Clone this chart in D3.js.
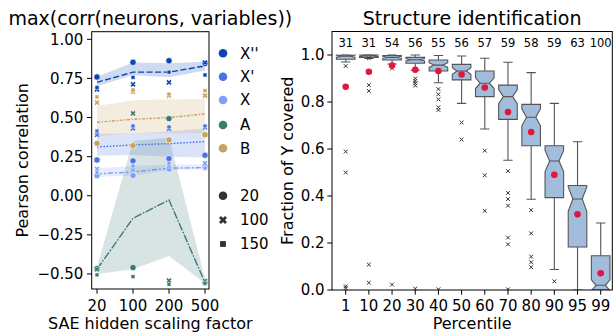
<!DOCTYPE html>
<html>
<head>
<meta charset="utf-8">
<script src="https://cdn.jsdelivr.net/npm/d3@7"></script>
<style>
body { margin: 0; background: #fff; }
text { font-family: "DejaVu Sans", sans-serif; fill: #000; }
</style>
</head>
<body>
<svg id="chart" width="614" height="332"></svg>
<script>
// ---- left panel data: max(corr) per variable ----
const scaleFactors = ['20', '100', '200', '500']
const varNames = ["X''", "X'", 'X', 'A', 'B']
const sizeNames = ['20', '100', '150']

// rows follow varNames, columns follow scaleFactors
const corrMean = [
    [0.725, 0.79, 0.79, 0.83],
    [0.312, 0.325, 0.333, 0.346],
    [0.14, 0.152, 0.176, 0.18],
    [-0.47, -0.144, -0.027, -0.555],
    [0.47, 0.489, 0.50, 0.523]
]
const corrLo = [
    [0.70, 0.772, 0.757, 0.80],
    [0.255, 0.26, 0.25, 0.245],
    [0.122, 0.128, 0.165, 0.17],
    [-0.50, -0.47, -0.385, -0.56],
    [0.378, 0.40, 0.40, 0.40]
]
const corrHi = [
    [0.761, 0.851, 0.847, 0.857],
    [0.395, 0.40, 0.41, 0.43],
    [0.176, 0.19, 0.20, 0.20],
    [-0.455, 0.35, 0.37, -0.53],
    [0.574, 0.61, 0.617, 0.619]
]
const corrCircle = [
    [0.759, 0.853, 0.863, 0.845],
    [0.229, 0.223, 0.237, 0.259],
    [0.129, 0.129, 0.171, 0.186],
    [-0.465, -0.459, 0.493, -0.555],
    [0.335, 0.32, 0.357, 0.39]
]
const corrCross = [
    [0.68, 0.712, 0.725, 0.851],
    [0.389, 0.431, 0.427, 0.437],
    [0.171, 0.165, 0.19, 0.208],
    [-0.47, 0.527, -0.542, -0.545],
    [0.595, 0.665, 0.64, 0.64]
]
const corrSquare = [
    [0.692, 0.757, 0.79, 0.772],
    [0.414, 0.446, 0.44, 0.446],
    [0.15, 0.19, 0.208, 0.176],
    [-0.506, -0.517, -0.566, -0.56],
    [0.632, 0.676, 0.65, 0.672]
]

// ---- right panel data: fraction of Y covered per percentile ----
const percentiles = ['1', '10', '20', '30', '40', '50', '60', '70', '80', '90', '95', '99']
const counts = [31, 31, 54, 56, 55, 56, 57, 59, 58, 59, 63, 100]
const q1 = [0.982, 0.99, 0.979, 0.965, 0.932, 0.894, 0.823, 0.726, 0.614, 0.393, 0.183, 0.0]
const medians = [0.995, 0.997, 0.99, 0.98, 0.957, 0.932, 0.88, 0.823, 0.735, 0.549, 0.387, 0.02]
const q3 = [0.999, 1.0, 0.998, 0.99, 0.979, 0.96, 0.932, 0.872, 0.79, 0.614, 0.445, 0.146]
const whiskLo = [0.97, 0.985, 0.962, 0.935, 0.882, 0.794, 0.685, 0.552, 0.386, 0.087, 0.0, 0.0]
const whiskHi = [1.0, 1.0, 1.0, 1.0, 0.998, 0.996, 0.986, 0.969, 0.925, 0.794, 0.631, 0.285]
const means = [0.865, 0.929, 0.955, 0.937, 0.932, 0.917, 0.862, 0.757, 0.672, 0.49, 0.322, 0.071]
const outliers = [
    [0.953, 0.589, 0.50, 0.016, 0.008],
    [0.986, 0.872, 0.847, 0.108, 0.031],
    [0.943, 0.023],
    [0.90, 0.89, 0.88, 0.87, 0.006],
    [0.855, 0.833, 0.811, 0.777, 0.766, 0.003],
    [0.713, 0.64],
    [0.593, 0.488, 0.337],
    [0.506, 0.413, 0.387, 0.359, 0.223, 0.194, 0.003],
    [0.34, 0.241, 0.142, 0.118, 0.097],
    [0.037],
    [],
    []
]

// styles
const varColors = ['#0a46b0', '#4a72e3', '#809ffa', '#3b7a72', '#c8a35f']
const varDashes = ['6,2.5', '1.6,1.6', '5,2,2,2', '8,1.6,1.6,1.6', '3,1.5,1.5,1.5']

const svg = d3.select('#chart')

// filled X marker: a plus rotated 45 degrees
const crossPath = d3.symbol().type(d3.symbolCross).size(20)()
const squarePath = d3.symbol().type(d3.symbolSquare).size(15)()

function drawMarker(g, kind, x, y, color, stroke) {
    if (kind === 0) {
        g.append('circle').attr('cx', x).attr('cy', y).attr('r', 3.2)
            .attr('fill', color).attr('stroke', stroke).attr('stroke-width', 0.7)
    } else if (kind === 1) {
        g.append('path').attr('d', crossPath)
            .attr('transform', `translate(${x},${y}) rotate(45)`)
            .attr('fill', color).attr('stroke', stroke).attr('stroke-width', 0.5)
    } else {
        g.append('path').attr('d', squarePath)
            .attr('transform', `translate(${x},${y})`)
            .attr('fill', color).attr('stroke', stroke).attr('stroke-width', 0.5)
    }
}

//draw left panel
function leftPanel() {
    const box = { left: 91.7, right: 209, top: 31.7, bottom: 289 }
    const x = d3.scalePoint().domain(scaleFactors).range([97, 205])
    const y = d3.scaleLinear().domain([-0.596, 1.0486]).range([box.bottom, box.top])

    svg.append('clipPath').attr('id', 'clipL')
        .append('rect').attr('x', box.left).attr('y', box.top)
        .attr('width', box.right - box.left).attr('height', box.bottom - box.top)

    const plot = svg.append('g').attr('clip-path', 'url(#clipL)')

    // bands and lines, one variable after the other
    varNames.forEach((name, v) => {
        const area = d3.area()
            .x((d, i) => x(scaleFactors[i]))
            .y0((d, i) => y(corrLo[v][i]))
            .y1((d, i) => y(corrHi[v][i]))
        plot.append('path')
            .datum(scaleFactors)
            .attr('d', area)
            .attr('fill', varColors[v])
            .attr('fill-opacity', 0.2)

        const line = d3.line()
            .x((d, i) => x(scaleFactors[i]))
            .y(d => y(d))
        plot.append('path')
            .datum(corrMean[v])
            .attr('d', line)
            .attr('fill', 'none')
            .attr('stroke', varColors[v])
            .attr('stroke-width', 1.4)
            .attr('stroke-dasharray', varDashes[v])
    })

    // points
    const pts = plot.append('g')
    const groups = [corrCircle, corrCross, corrSquare]
    varNames.forEach((name, v) => {
        groups.forEach((arr, k) => {
            arr[v].forEach((val, i) => {
                drawMarker(pts, k, x(scaleFactors[i]), y(val), varColors[v], '#fff')
            })
        })
    })

    // frame
    svg.append('rect')
        .attr('x', box.left).attr('y', box.top)
        .attr('width', box.right - box.left).attr('height', box.bottom - box.top)
        .attr('fill', 'none').attr('stroke', '#000').attr('stroke-width', 1)

    // y axis
    const yTicks = d3.range(-0.5, 1.01, 0.25)
    const fmt = d3.format('.2f')
    yTicks.forEach(t => {
        svg.append('line')
            .attr('x1', box.left - 4.7).attr('x2', box.left)
            .attr('y1', y(t)).attr('y2', y(t))
            .attr('stroke', '#000').attr('stroke-width', 1)
        svg.append('text')
            .attr('x', box.left - 8.3).attr('y', y(t)).attr('dy', '0.36em')
            .attr('text-anchor', 'end').style('font-size', '15px')
            .text(fmt(t).replace('-', '\u2212'))
    })

    // x axis
    scaleFactors.forEach(t => {
        svg.append('line')
            .attr('x1', x(t)).attr('x2', x(t))
            .attr('y1', box.bottom).attr('y2', box.bottom + 4.7)
            .attr('stroke', '#000').attr('stroke-width', 1)
        svg.append('text')
            .attr('x', x(t)).attr('y', 310.5)
            .attr('text-anchor', 'middle').style('font-size', '15px')
            .text(t)
    })

    //labels and title
    svg.append('text')
        .attr('transform', `translate(27.5, ${(box.top + box.bottom) / 2}) rotate(-90)`)
        .attr('text-anchor', 'middle').style('font-size', '16px')
        .text('Pearson correlation')
    svg.append('text')
        .attr('x', (box.left + box.right) / 2).attr('y', 329)
        .attr('text-anchor', 'middle').style('font-size', '16px')
        .text('SAE hidden scaling factor')
    svg.append('text')
        .attr('x', (box.left + box.right) / 2).attr('y', 25)
        .attr('text-anchor', 'middle').style('font-size', '19px')
        .text('max(corr(neurons, variables))')

    // legend
    const leg = svg.append('g')
    const hueY = [53.3, 76.7, 100, 125, 148.3]
    varNames.forEach((name, v) => {
        leg.append('circle').attr('cx', 223).attr('cy', hueY[v]).attr('r', 4.3)
            .attr('fill', varColors[v])
        leg.append('text').attr('x', 240).attr('y', hueY[v]).attr('dy', '0.36em')
            .style('font-size', '15px').text(name)
    })
    const styleY = [195.7, 220, 244]
    sizeNames.forEach((name, k) => {
        if (k === 0) {
            leg.append('circle').attr('cx', 223).attr('cy', styleY[k]).attr('r', 4.3)
                .attr('fill', '#333')
        } else {
            const big = d3.symbol().type(k === 1 ? d3.symbolCross : d3.symbolSquare).size(k === 1 ? 40 : 34)()
            leg.append('path').attr('d', big)
                .attr('transform', `translate(223,${styleY[k]})` + (k === 1 ? ' rotate(45)' : ''))
                .attr('fill', '#333')
        }
        leg.append('text').attr('x', 240).attr('y', styleY[k]).attr('dy', '0.36em')
            .style('font-size', '15px').text(name)
    })
}

//draw right panel
function rightPanel() {
    const box = { left: 332, right: 612.3, top: 31.5, bottom: 290 }
    const x = d3.scalePoint().domain(percentiles).range([345.7, 600.7])
    const y = d3.scaleLinear().domain([0, 1.1]).range([box.bottom, box.top])
    const bw = 18.6

    svg.append('clipPath').attr('id', 'clipR')
        .append('rect').attr('x', box.left).attr('y', box.top)
        .attr('width', box.right - box.left).attr('height', box.bottom - box.top)
    const plot = svg.append('g').attr('clip-path', 'url(#clipR)')

    percentiles.forEach((p, i) => {
        const cx = x(p)
        const l = cx - bw / 2, r = cx + bw / 2
        const notch = 1.57 * (q3[i] - q1[i]) / Math.sqrt(counts[i])
        const nLo = y(medians[i] - notch), nHi = y(medians[i] + notch), m = y(medians[i])

        // whiskers and caps
        const g = plot.append('g').attr('stroke', '#555').attr('stroke-width', 1.1)
        g.append('line').attr('x1', cx).attr('x2', cx).attr('y1', y(q1[i])).attr('y2', y(whiskLo[i]))
        g.append('line').attr('x1', cx).attr('x2', cx).attr('y1', y(q3[i])).attr('y2', y(whiskHi[i]))
        g.append('line').attr('x1', cx - bw / 4).attr('x2', cx + bw / 4).attr('y1', y(whiskLo[i])).attr('y2', y(whiskLo[i]))
        g.append('line').attr('x1', cx - bw / 4).attr('x2', cx + bw / 4).attr('y1', y(whiskHi[i])).attr('y2', y(whiskHi[i]))

        // notched box
        const pts = [
            [l, y(q1[i])], [r, y(q1[i])], [r, nLo], [r - bw / 4, m], [r, nHi],
            [r, y(q3[i])], [l, y(q3[i])], [l, nHi], [l + bw / 4, m], [l, nLo]
        ]
        g.append('path')
            .attr('d', d3.line()(pts) + 'Z')
            .attr('fill', '#a2bddb')
        g.append('line').attr('x1', l + bw / 4).attr('x2', r - bw / 4).attr('y1', m).attr('y2', m)

        // fliers
        outliers[i].forEach(o => {
            plot.append('path')
                .attr('d', 'M-1.9,-1.9L1.9,1.9M-1.9,1.9L1.9,-1.9')
                .attr('transform', `translate(${cx},${y(o)})`)
                .attr('stroke', '#333').attr('stroke-width', 1).attr('fill', 'none')
        })
    })

    // means
    plot.selectAll('.mean')
        .data(means)
        .enter().append('circle')
        .attr('class', 'mean')
        .attr('cx', (d, i) => x(percentiles[i]))
        .attr('cy', d => y(d))
        .attr('r', 3.3)
        .attr('fill', '#e0173f')

    // counts on top
    svg.selectAll('.count')
        .data(counts)
        .enter().append('text')
        .attr('class', 'count')
        .attr('x', (d, i) => x(percentiles[i]))
        .attr('y', 46.7)
        .attr('text-anchor', 'middle')
        .style('font-size', '11.5px')
        .text(d => d)

    // frame
    svg.append('rect')
        .attr('x', box.left).attr('y', box.top)
        .attr('width', box.right - box.left).attr('height', box.bottom - box.top)
        .attr('fill', 'none').attr('stroke', '#000').attr('stroke-width', 1)

    // y axis
    const fmt = d3.format('.1f')
    d3.range(0, 1.01, 0.2).forEach(t => {
        svg.append('line')
            .attr('x1', box.left - 4.7).attr('x2', box.left)
            .attr('y1', y(t)).attr('y2', y(t))
            .attr('stroke', '#000').attr('stroke-width', 1)
        svg.append('text')
            .attr('x', box.left - 7.5).attr('y', y(t)).attr('dy', '0.36em')
            .attr('text-anchor', 'end').style('font-size', '15px')
            .text(fmt(t))
    })

    // x axis
    percentiles.forEach(p => {
        svg.append('line')
            .attr('x1', x(p)).attr('x2', x(p))
            .attr('y1', box.bottom).attr('y2', box.bottom + 4.7)
            .attr('stroke', '#000').attr('stroke-width', 1)
        svg.append('text')
            .attr('x', x(p)).attr('y', 310.5)
            .attr('text-anchor', 'middle').style('font-size', '15px')
            .text(p)
    })

    svg.append('text')
        .attr('transform', `translate(293.3, ${(box.top + box.bottom) / 2}) rotate(-90)`)
        .attr('text-anchor', 'middle').style('font-size', '16px')
        .text('Fraction of Y covered')
    svg.append('text')
        .attr('x', (box.left + box.right) / 2).attr('y', 328.5)
        .attr('text-anchor', 'middle').style('font-size', '16px')
        .text('Percentile')
    svg.append('text')
        .attr('x', (box.left + box.right) / 2).attr('y', 25)
        .attr('text-anchor', 'middle').style('font-size', '19px')
        .text('Structure identification')
}

leftPanel()
rightPanel()
</script>
</body>
</html>
